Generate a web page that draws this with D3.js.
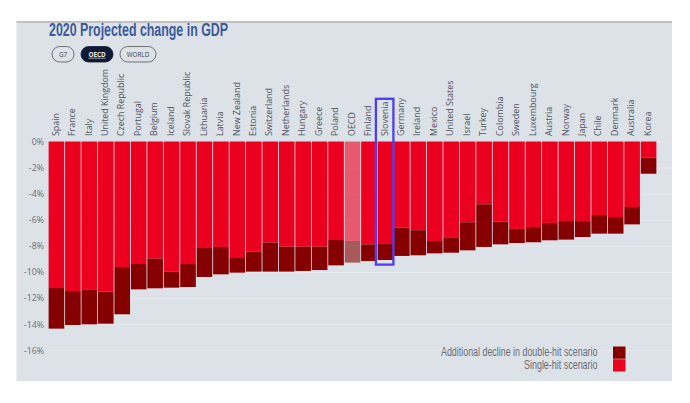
<!DOCTYPE html>
<html>
<head>
<meta charset="utf-8">
<script src="https://cdn.jsdelivr.net/npm/d3@7"></script>
<style>
html, body { margin: 0; padding: 0; background: #fff; }
svg { display: block; }
</style>
</head>
<body>
<script>
var countries = ["Spain","France","Italy","United Kingdom","Czech Republic","Portugal","Belgium","Iceland","Slovak Republic","Lithuania","Latvia","New Zealand","Estonia","Switzerland","Netherlands","Hungary","Greece","Poland","OECD","Finland","Slovenia","Germany","Ireland","Mexico","United States","Israel","Turkey","Colombia","Sweden","Luxembourg","Austria","Norway","Japan","Chile","Denmark","Australia","Korea"];
var singleHit = [-11.17,-11.46,-11.33,-11.5,-9.62,-9.39,-8.98,-9.97,-9.39,-8.16,-8.08,-8.93,-8.44,-7.75,-8.06,-8.06,-8.06,-7.55,-7.62,-7.88,-7.85,-6.6,-6.8,-7.62,-7.34,-6.19,-4.81,-6.14,-6.7,-6.55,-6.24,-6.09,-6.09,-5.63,-5.79,-5.02,-1.24];
var doubleHit = [-14.34,-14.06,-14.01,-13.96,-13.24,-11.33,-11.25,-11.2,-11.15,-10.38,-10.18,-10.05,-9.97,-9.97,-9.97,-9.92,-9.85,-9.49,-9.28,-9.16,-9.08,-8.77,-8.72,-8.57,-8.52,-8.34,-8.08,-7.88,-7.78,-7.72,-7.57,-7.52,-7.32,-7.06,-7.06,-6.35,-2.47];
var yTicks = [0,-2,-4,-6,-8,-10,-12,-14,-16];
var buttons = ["G7","OECD","WORLD"];
var legendLabels = ["Additional decline in double-hit scenario","Single-hit scenario"];
var legendWidths = [156.5, 73.5];

var width = 690, height = 403;
var red = "#ec0020", darkRed = "#850000";

var svg = d3.select("body").append("svg")
    .attr("width", width)
    .attr("height", height);

// panel
svg.append("rect")
    .attr("x", 16.5).attr("y", 22)
    .attr("width", 655.5).attr("height", 359)
    .attr("fill", "#dde1e8");
svg.append("rect")
    .attr("x", 16.5).attr("y", 21)
    .attr("width", 655.5).attr("height", 2)
    .attr("fill", "#bfc1c5");

svg.append("text")
    .attr("x", 49).attr("y", 35.5)
    .attr("font-family", "'Liberation Sans Narrow', 'Liberation Sans', sans-serif")
    .attr("font-weight", "bold")
    .attr("font-size", 17.5)
    .attr("fill", "#3a5a9b")
    .attr("textLength", 179)
    .attr("lengthAdjust", "spacingAndGlyphs")
    .text("2020 Projected change in GDP");

// scenario buttons
var buttonX = d3.scaleOrdinal().domain(buttons).range([52, 81, 120]);
var buttonW = d3.scaleOrdinal().domain(buttons).range([22, 32, 36]);
var btn = svg.selectAll(".btn").data(buttons).enter().append("g")
    .attr("class", "btn")
    .attr("transform", d => "translate(" + buttonX(d) + ",46.5)");
btn.append("rect")
    .attr("width", d => buttonW(d)).attr("height", 15.5)
    .attr("rx", 7.7)
    .attr("fill", d => d == "OECD" ? "#0e1a33" : "none")
    .attr("stroke", d => d == "OECD" ? "#0e1a33" : "#555")
    .attr("stroke-width", 0.8);
btn.append("text")
    .attr("x", d => buttonW(d) / 2).attr("y", 10.3)
    .attr("text-anchor", "middle")
    .attr("font-family", "'Open Sans', sans-serif")
    .attr("font-size", 6.3)
    .attr("font-weight", d => d == "OECD" ? "bold" : "normal")
    .attr("text-decoration", d => d == "OECD" ? "underline" : "none")
    .attr("fill", d => d == "OECD" ? "#e8ebf0" : "#444")
    .text(d => d);

var x = d3.scaleBand().domain(countries).range([48.3, 656.7]).paddingInner(0.05).paddingOuter(0.02);
var y = d3.scaleLinear().domain([0, -16]).range([141.5, 350.3]);

// grid and y axis
var yAxis = svg.append("g")
    .attr("transform", "translate(48,0)")
    .call(d3.axisLeft(y).tickValues(yTicks).tickSize(0).tickPadding(4).tickFormat(d => d + "%"));
yAxis.select(".domain").remove();
yAxis.selectAll("text")
    .attr("font-family", "'Open Sans', sans-serif")
    .attr("font-size", 8.8)
    .attr("fill", "#6a6f78");
yAxis.selectAll(".tick line")
    .attr("x2", 624)
    .attr("stroke", "#e6e9ee")
    .attr("stroke-width", 1);

var rows = countries.map((c, i) => ({ name: c, single: singleHit[i], total: doubleHit[i] }));

var bars = svg.selectAll(".bar").data(rows).enter().append("g")
    .attr("class", "bar")
    .attr("opacity", d => d.name == "OECD" ? 0.6 : 1);
bars.append("rect")
    .attr("x", d => x(d.name)).attr("width", x.bandwidth())
    .attr("y", y(0)).attr("height", d => y(d.single) - y(0))
    .attr("fill", red);
bars.append("rect")
    .attr("x", d => x(d.name)).attr("width", x.bandwidth())
    .attr("y", d => y(d.single)).attr("height", d => y(d.total) - y(d.single))
    .attr("fill", darkRed);

svg.selectAll(".country").data(countries).enter().append("text")
    .attr("class", "country")
    .attr("transform", d => "translate(" + (x(d) + x.bandwidth() / 2 + 2.2) + ",136) rotate(-90)")
    .attr("font-family", "'Open Sans', sans-serif")
    .attr("font-size", 8.9)
    .attr("fill", "#4f5560")
    .text(d => d);

// highlighted country
svg.append("rect")
    .attr("x", x("Slovenia") - 1.7).attr("width", x.bandwidth() + 1.9)
    .attr("y", 98.8).attr("height", 165.8)
    .attr("fill", "none")
    .attr("stroke", "#4f3df0")
    .attr("stroke-width", 2.3);

// legend
var legendY = d3.scaleBand().domain(legendLabels).range([346.5, 372]);
svg.selectAll(".swatch").data(legendLabels).enter().append("rect")
    .attr("class", "swatch")
    .attr("x", 613).attr("width", 12.5)
    .attr("y", d => legendY(d)).attr("height", legendY.bandwidth() - 0.5)
    .attr("fill", (d, i) => i == 0 ? darkRed : red);
svg.selectAll(".legend").data(legendLabels).enter().append("text")
    .attr("class", "legend")
    .attr("x", 597.5)
    .attr("y", d => legendY(d) + 9.8)
    .attr("text-anchor", "end")
    .attr("font-family", "'Liberation Sans Narrow', 'Liberation Sans', sans-serif")
    .attr("font-size", 12)
    .attr("fill", "#6a6d75")
    .attr("textLength", (d, i) => legendWidths[i])
    .attr("lengthAdjust", "spacingAndGlyphs")
    .text(d => d);
</script>
</body>
</html>
